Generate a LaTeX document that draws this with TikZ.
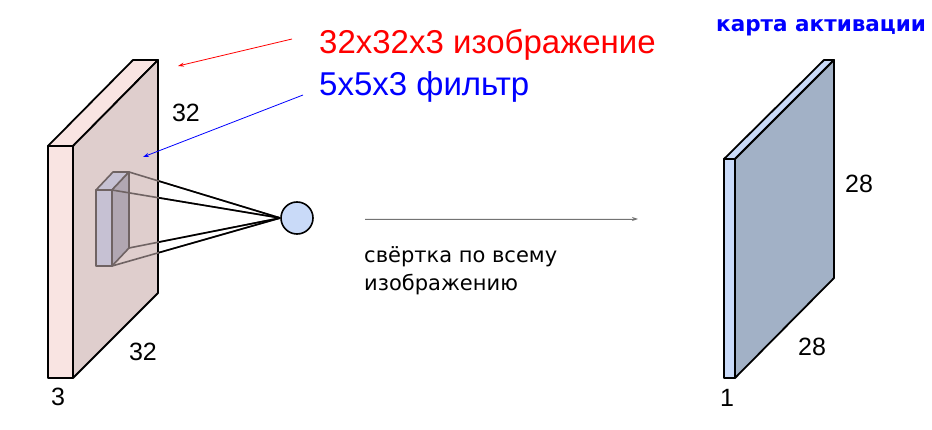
\documentclass[tikz,border=0pt]{standalone}
\usepackage{fontspec}
\setmainfont{Liberation Sans}
\newfontfamily\verdanafont{DejaVu Sans}
\usetikzlibrary{arrows.meta,positioning}
\definecolor{slabfront}{HTML}{F9E4E2}
\definecolor{slabside}{HTML}{DFCECD}
\definecolor{filtfront}{HTML}{C6C1D3}
\definecolor{filtside}{HTML}{B1A7B2}
\definecolor{filtedge}{HTML}{6F6363}
\definecolor{mapfront}{HTML}{C9DAF8}
\definecolor{mapside}{HTML}{A2B1C6}
\tikzstyle{slab}=[draw=black, line width=1.8pt, line join=round]
\tikzstyle{filt}=[draw=filtedge, line width=1.6pt, line join=round]
\tikzstyle{dimlabel}=[inner sep=0pt, font=\fontsize{25}{25}\selectfont]
\tikzstyle{pointer}=[line width=0.8pt,-{Stealth[length=6pt,width=4pt]}]

\begin{document}
\begin{tikzpicture}[x=1pt,y=-1pt]
\useasboundingbox (0,0) rectangle (932,430);
% input volume 32x32x3
\path[slab,fill=slabfront] (48,146) rectangle (73,378);
\path[slab,fill=slabfront] (48,146)--(133,60)--(158,60)--(73,146)--cycle;
\path[slab,fill=slabside] (73,146)--(158,60)--(158,293)--(73,378)--cycle;
% filter 5x5x3
\path[filt,fill=filtfront] (96,190) rectangle (112,266);
\path[filt,fill=filtfront] (96,190)--(113,172)--(129,172)--(112,190)--cycle;
\path[filt,fill=filtside] (112,190)--(129,172)--(129,248)--(112,266)--cycle;
\coordinate (fA) at (129,172);
\coordinate (fB) at (112,190);
\coordinate (fC) at (129,248);
\coordinate (fD) at (112,266);
\node (neuron) [circle,draw,line width=1.6pt,fill=mapfront,minimum size=32pt,inner sep=0pt] at (297,218) {};
\foreach \c in {fA,fB,fC,fD}
  \draw[filtedge,line width=1.6pt] (\c)--(neuron.west);
\begin{scope}
\clip (159,0) rectangle (932,430);
\foreach \c in {fA,fB,fC,fD}
  \draw[black,line width=1.6pt] (\c)--(neuron.west);
\end{scope}
% activation map 28x28x1
\path[slab,fill=mapfront] (724,159) rectangle (735,378);
\path[slab,fill=mapfront] (724,159)--(824,60)--(834,60)--(735,159)--cycle;
\path[slab,fill=mapside] (735,159)--(834,60)--(834,278)--(735,378)--cycle;
% sizes
\node (inH) [dimlabel] at (186,113) {32};
\node (inW) [dimlabel] at (143,352) {32};
\node (inD) [dimlabel] at (58,397) {3};
\node (outH) [dimlabel] at (859,184) {28};
\node (outW) [dimlabel] at (812,347) {28};
\node (outD) [dimlabel] at (727,398) {1};
% captions
\node (imgtxt) [anchor=base west,inner sep=0pt,text=red,font=\fontsize{33}{33}\selectfont] at (319,54) {32x32x3 изображение};
\node (filttxt) [anchor=base west,inner sep=0pt,text=blue,font=\fontsize{33}{33}\selectfont] at (319,96) {5x5x3 фильтр};
\node (maptxt) [anchor=base west,inner sep=0pt,text=blue,font=\verdanafont\bfseries\fontsize{21.5}{21.5}\selectfont] at (716,32) {карта активации};
\coordinate (imgtail) at (292,39);
\coordinate (imgtip) at (178,66);
\coordinate (filttail) at (303,95);
\coordinate (filttip) at (143,157);
\draw[pointer,red] (imgtail)--(imgtip);
\draw[pointer,blue] (filttail)--(filttip);
% convolution
\coordinate (convfrom) at (365,219);
\coordinate (convto) at (638,219);
\draw[pointer,draw=black!55,fill=black!55,line width=0.9pt] (convfrom)--(convto);
\node (convtxt) [anchor=north west,inner sep=0pt,align=left,font=\verdanafont\fontsize{21}{28}\selectfont] at (364,246) {свёртка по всему\\изображению};
\end{tikzpicture}
\end{document}
